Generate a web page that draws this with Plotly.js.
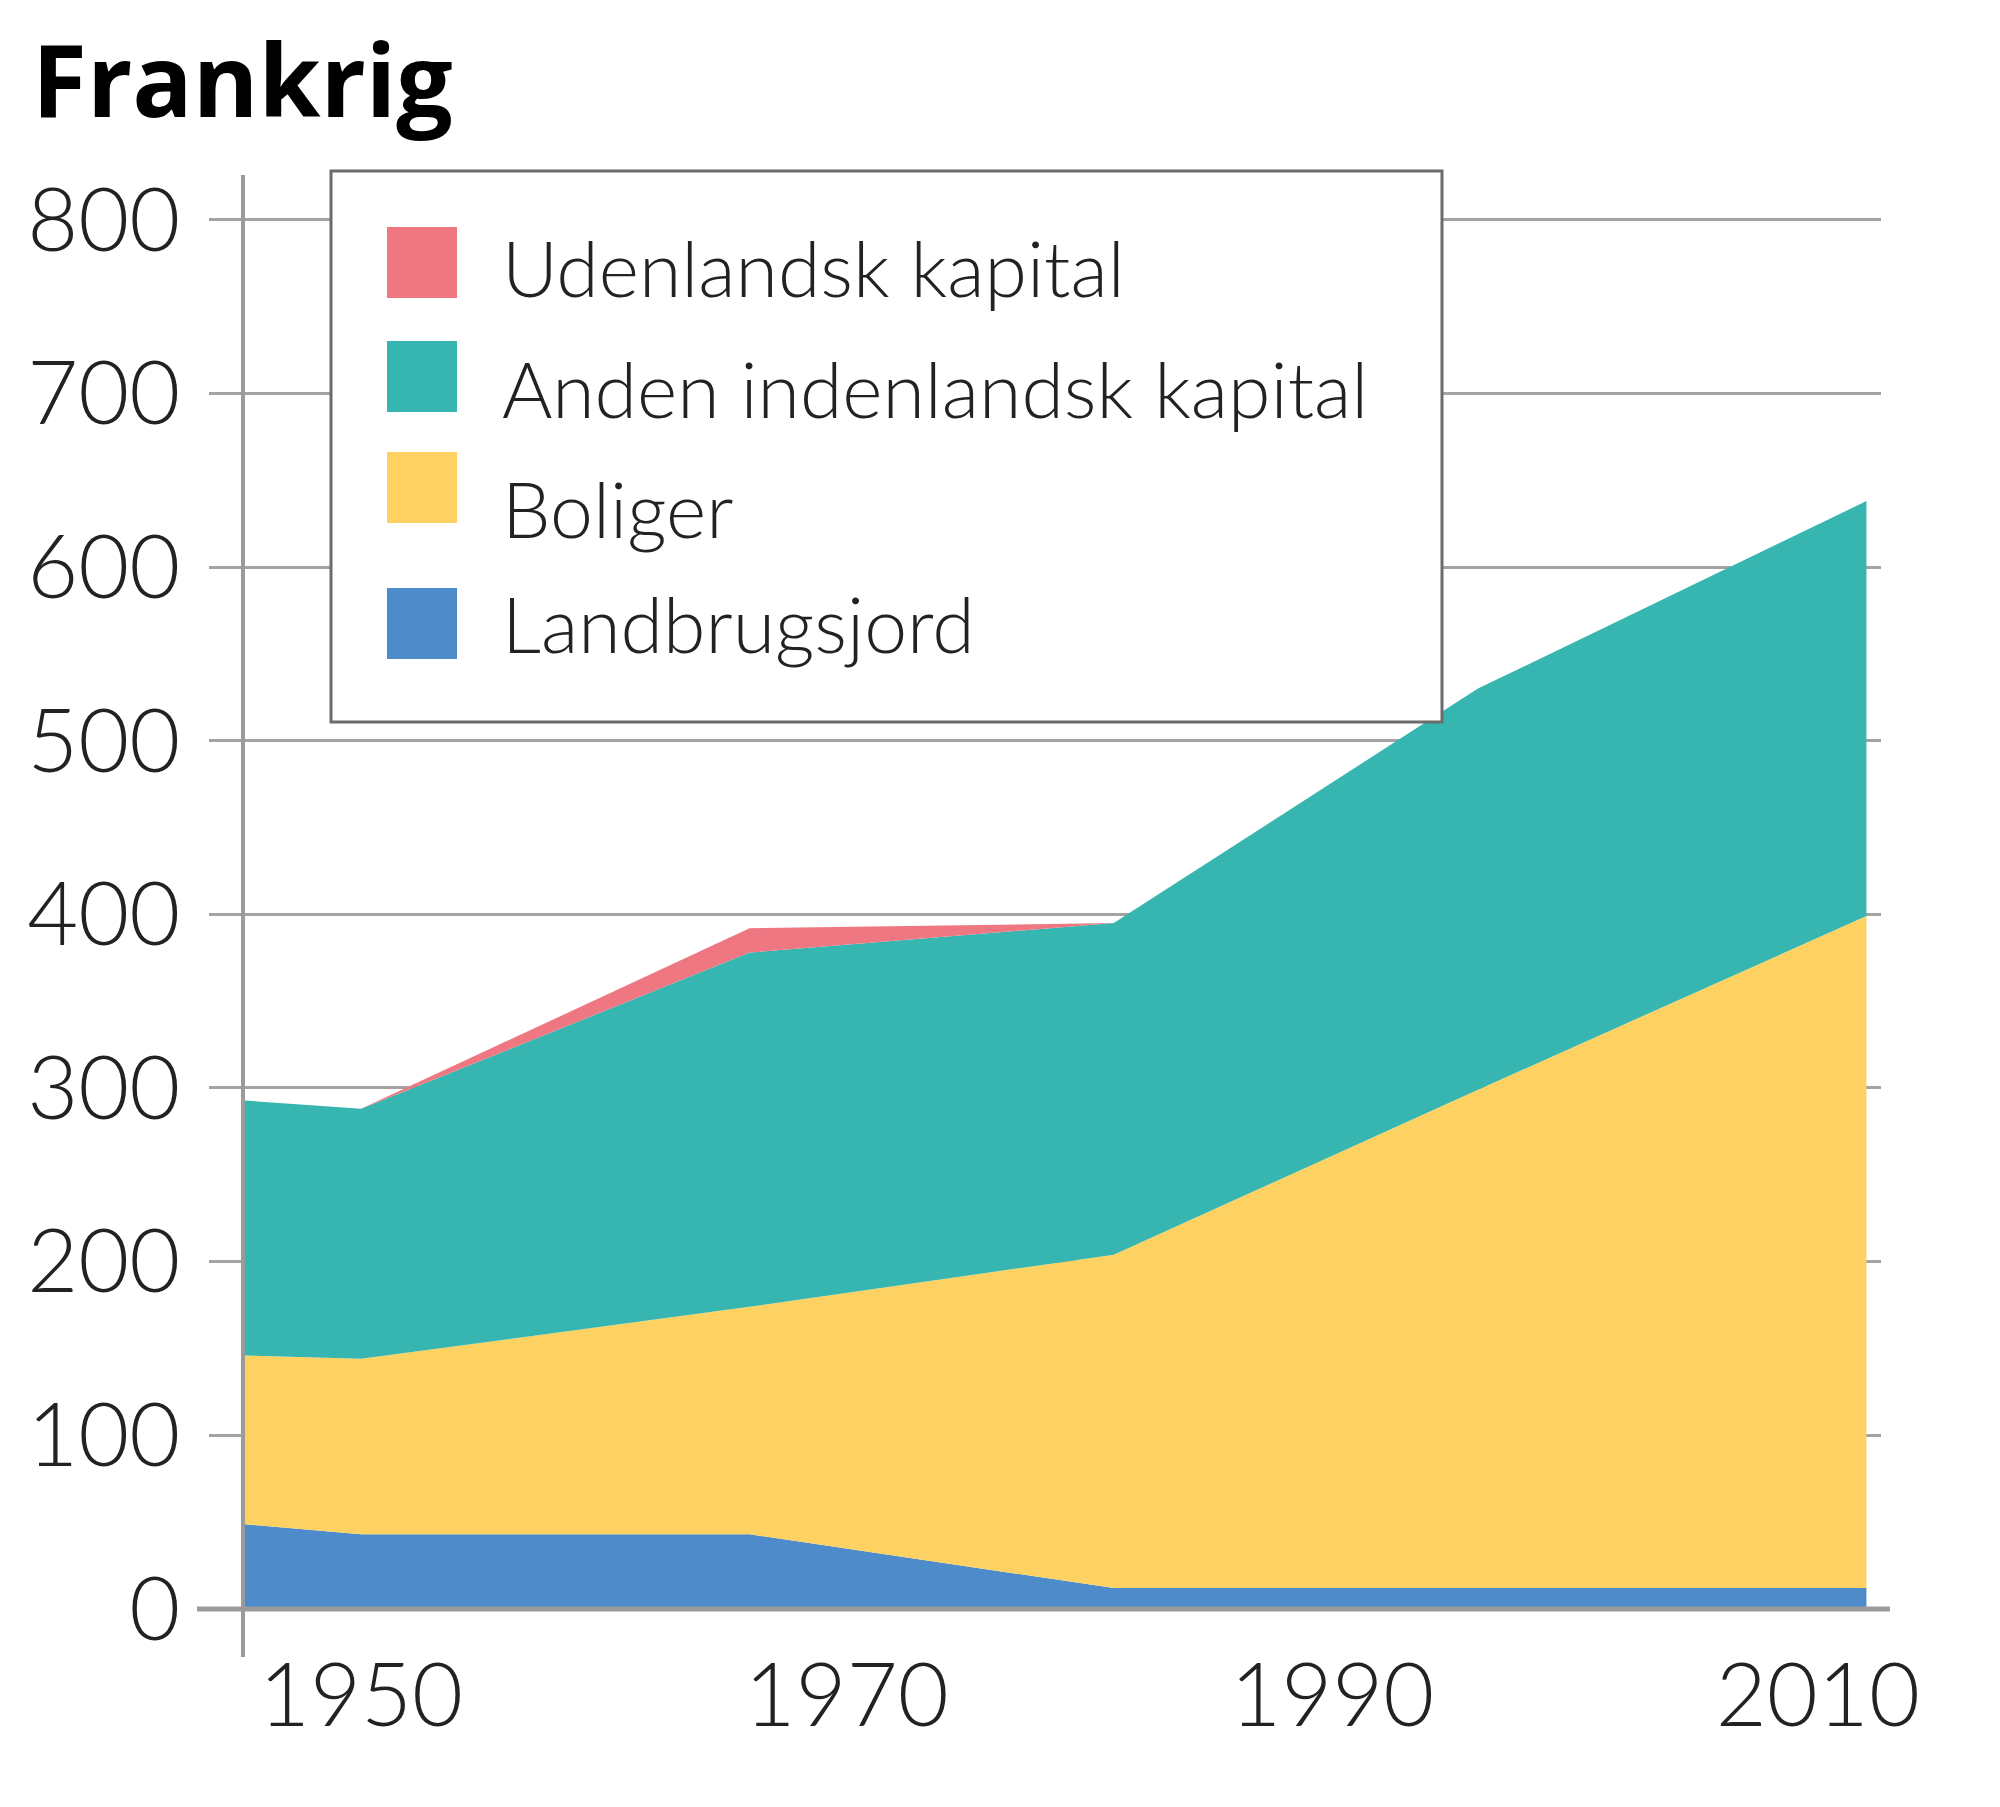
<!DOCTYPE html>
<html>
<head>
<meta charset="utf-8">
<script src="https://cdn.plot.ly/plotly-3.0.1.min.js"></script>
<style>
  html, body { margin: 0; padding: 0; background: #fff; }
  #chart { width: 2000px; height: 1807px; }
</style>
</head>
<body>
<div id="chart"></div>
<script>
// years and values (pct of national income)
var years = [1945, 1950, 1966, 1981, 1996, 2012];
var landbrugsjord = [49, 43, 43, 12, 12, 12];
var boliger = [97, 101, 131, 192, 287, 387];
var andenKapital = [147, 144, 204, 191, 231, 239];
var udenlandskKapital = [0, 0, 14, 0, 0, 0];

var seriesNames = ['Udenlandsk kapital', 'Anden indenlandsk kapital', 'Boliger', 'Landbrugsjord'];
var seriesColors = ['#ee7782', '#37b6b1', '#fdd262', '#4e8bca'];
var yTicks = [0, 100, 200, 300, 400, 500, 600, 700, 800];
var xTicks = [1950, 1970, 1990, 2010];

function area(name, values, color) {
  return {
    x: years,
    y: values,
    name: name,
    type: 'scatter',
    mode: 'lines',
    stackgroup: 'one',
    line: {width: 0, color: color},
    fillcolor: color,
    showlegend: false,
    hoverinfo: 'skip'
  };
}

var data = [
  area(seriesNames[3], landbrugsjord, seriesColors[3]),
  area(seriesNames[2], boliger, seriesColors[2]),
  area(seriesNames[1], andenKapital, seriesColors[1]),
  area(seriesNames[0], udenlandskKapital, seriesColors[0])
];

// plot area in pixels, for placing the hand made legend
var L = 245, R = 1881, T = 175, B = 1657;
function px(x) { return (x - L) / (R - L); }
function py(y) { return (B - y) / (B - T); }

var shapes = [];
var annotations = [];

// legend box
shapes.push({
  type: 'rect', xref: 'paper', yref: 'paper', layer: 'above',
  x0: px(331), x1: px(1442), y0: py(722), y1: py(171),
  fillcolor: '#ffffff', line: {color: '#6b6b6b', width: 3}
});
var squareTops = [227, 341, 452, 588];
var textMids = [267, 388, 508, 623];
for (var i = 0; i < seriesNames.length; i++) {
  shapes.push({
    type: 'rect', xref: 'paper', yref: 'paper', layer: 'above',
    x0: px(387), x1: px(457), y0: py(squareTops[i] + 71), y1: py(squareTops[i]),
    fillcolor: seriesColors[i], line: {width: 0}
  });
  annotations.push({
    text: seriesNames[i], xref: 'paper', yref: 'paper',
    x: px(500), y: py(textMids[i]), xanchor: 'left', yanchor: 'middle',
    showarrow: false,
    font: {family: 'Lato, sans-serif', size: 77, color: '#222', weight: 300}
  });
}

// x axis line at zero, a bit longer than the plot
shapes.push({
  type: 'line', xref: 'paper', yref: 'y', layer: 'above',
  x0: px(197), x1: px(1890), y0: 0, y1: 0,
  line: {color: '#9b9b9b', width: 5}
});

var layout = {
  width: 2000,
  height: 1807,
  paper_bgcolor: '#ffffff',
  plot_bgcolor: '#ffffff',
  margin: {l: L, r: 2000 - R, t: T, b: 1807 - B},
  showlegend: false,
  title: {
    text: '<b>Frankrig</b>',
    font: {family: 'Open Sans, sans-serif', size: 100, color: '#000'},
    xref: 'container', yref: 'container',
    x: 32 / 2000, xanchor: 'left',
    y: 1 - 82 / 1807, yanchor: 'middle'
  },
  xaxis: {
    range: [1945.22, 2012.6],
    tickvals: xTicks,
    ticktext: xTicks.map(String),
    showgrid: false,
    zeroline: false,
    showline: false,
    ticks: '',
    ticklabelstandoff: -20,
    tickfont: {family: 'Lato, sans-serif', size: 88, color: '#222', weight: 300}
  },
  yaxis: {
    range: [-27.7, 825.8],
    tickvals: yTicks,
    showgrid: true,
    gridcolor: '#a3a3a3',
    gridwidth: 3,
    zeroline: false,
    showline: true,
    linecolor: '#9b9b9b',
    linewidth: 4,
    ticks: 'outside',
    ticklen: 32,
    tickwidth: 3,
    tickcolor: '#a3a3a3',
    ticklabelstandoff: 11,
    tickfont: {family: 'Lato, sans-serif', size: 88, color: '#222', weight: 300}
  },
  shapes: shapes,
  annotations: annotations
};

Plotly.newPlot('chart', data, layout, {displayModeBar: false, staticPlot: true});
</script>
</body>
</html>
